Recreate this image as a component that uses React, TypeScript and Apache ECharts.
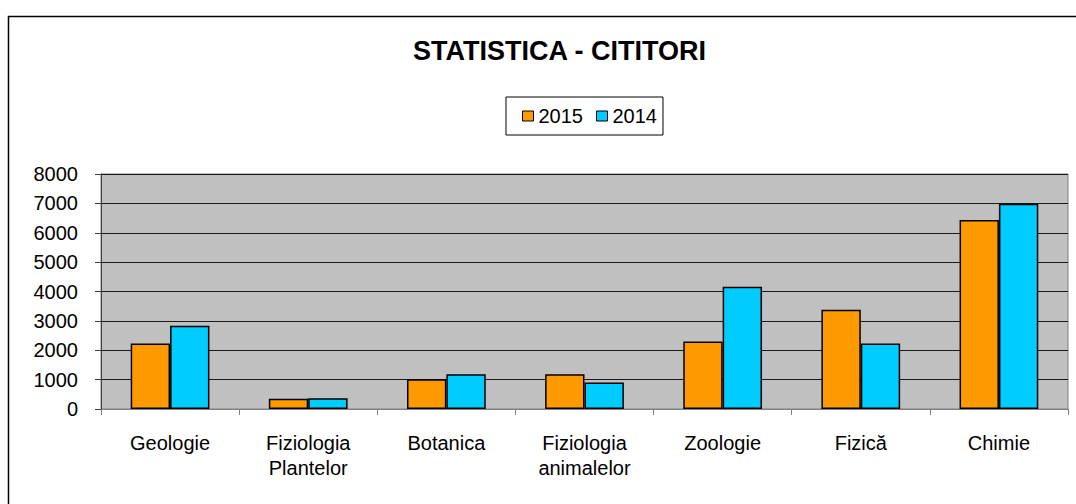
import React, { useEffect, useRef } from "react";
import * as echarts from "echarts";

const categories = [
  "Geologie",
  "Fiziologia\nPlantelor",
  "Botanica",
  "Fiziologia\nanimalelor",
  "Zoologie",
  "Fizică",
  "Chimie",
];
const values2015 = [2230, 350, 1010, 1180, 2300, 3380, 6430];
const values2014 = [2830, 370, 1180, 900, 4160, 2230, 6990];
const yTicks = [0, 1000, 2000, 3000, 4000, 5000, 6000, 7000, 8000];

const FONT = "'Liberation Sans', Arial, sans-serif";

export default function App() {
  const ref = useRef<HTMLDivElement>(null);
  useEffect(() => {
    if (!ref.current) return;
    const chart = echarts.init(ref.current, undefined, { renderer: "svg" });
    chart.setOption({
      animation: false,
      backgroundColor: "#ffffff",
      textStyle: { fontFamily: FONT },
      title: {
        text: "STATISTICA - CITITORI",
        left: 413,
        top: 37,
        padding: 0,
        textStyle: { fontFamily: FONT, fontSize: 27, fontWeight: "bold", color: "#000" },
      },
      legend: {
        left: 506,
        top: 97,
        padding: [9, 6, 9, 16],
        itemGap: 13,
        itemWidth: 11,
        itemHeight: 10,
        icon: "rect",
        borderColor: "#000",
        borderWidth: 1,
        backgroundColor: "#fff",
        textStyle: { fontFamily: FONT, fontSize: 20, color: "#000", padding: [0, 0, 0, 0] },
        itemStyle: { borderColor: "#000", borderWidth: 1 },
        data: ["2015", "2014"],
      },
      grid: {
        left: 101,
        right: 8,
        top: 174,
        bottom: 95,
        show: true,
        backgroundColor: "#C0C0C0",
        borderColor: "#808080",
        borderWidth: 1,
      },
      xAxis: {
        type: "category",
        data: categories,
        axisLine: { lineStyle: { color: "#808080", width: 1 } },
        axisTick: { show: true, length: 6, lineStyle: { color: "#808080" } },
        axisLabel: {
          fontFamily: FONT,
          fontSize: 20,
          color: "#000",
          margin: 21,
          lineHeight: 25,
          interval: 0,
        },
      },
      yAxis: {
        type: "value",
        min: yTicks[0],
        max: yTicks[yTicks.length - 1],
        interval: 1000,
        axisLine: { show: true, lineStyle: { color: "#404040", width: 1 } },
        axisTick: { show: true, length: 6, lineStyle: { color: "#404040" } },
        splitLine: { show: true, lineStyle: { color: "#1a1a1a", width: 1 } },
        axisLabel: {
          fontFamily: FONT,
          fontSize: 20,
          color: "#000",
          margin: 23,
          formatter: (v: number) => String(v),
        },
      },
      series: [
        {
          name: "2015",
          type: "bar",
          data: values2015,
          barGap: "0%",
          barCategoryGap: "43%",
          itemStyle: { color: "#FF9900", borderColor: "#000", borderWidth: 1.5 },
        },
        {
          name: "2014",
          type: "bar",
          data: values2014,
          barGap: "0%",
          barCategoryGap: "43%",
          itemStyle: { color: "#00CCFF", borderColor: "#000", borderWidth: 1.5 },
        },
      ],
      graphic: [
        {
          type: "rect",
          shape: { x: 8.5, y: 16.5, width: 1200, height: 600 },
          style: { fill: "none", stroke: "#000", lineWidth: 1.5 },
          silent: true,
          z: 100,
        },
      ],
    });
    return () => chart.dispose();
  }, []);
  return (
    <div
      ref={ref}
      style={{ position: "absolute", left: 0, top: 0, width: 1076, height: 504 }}
    />
  );
}
